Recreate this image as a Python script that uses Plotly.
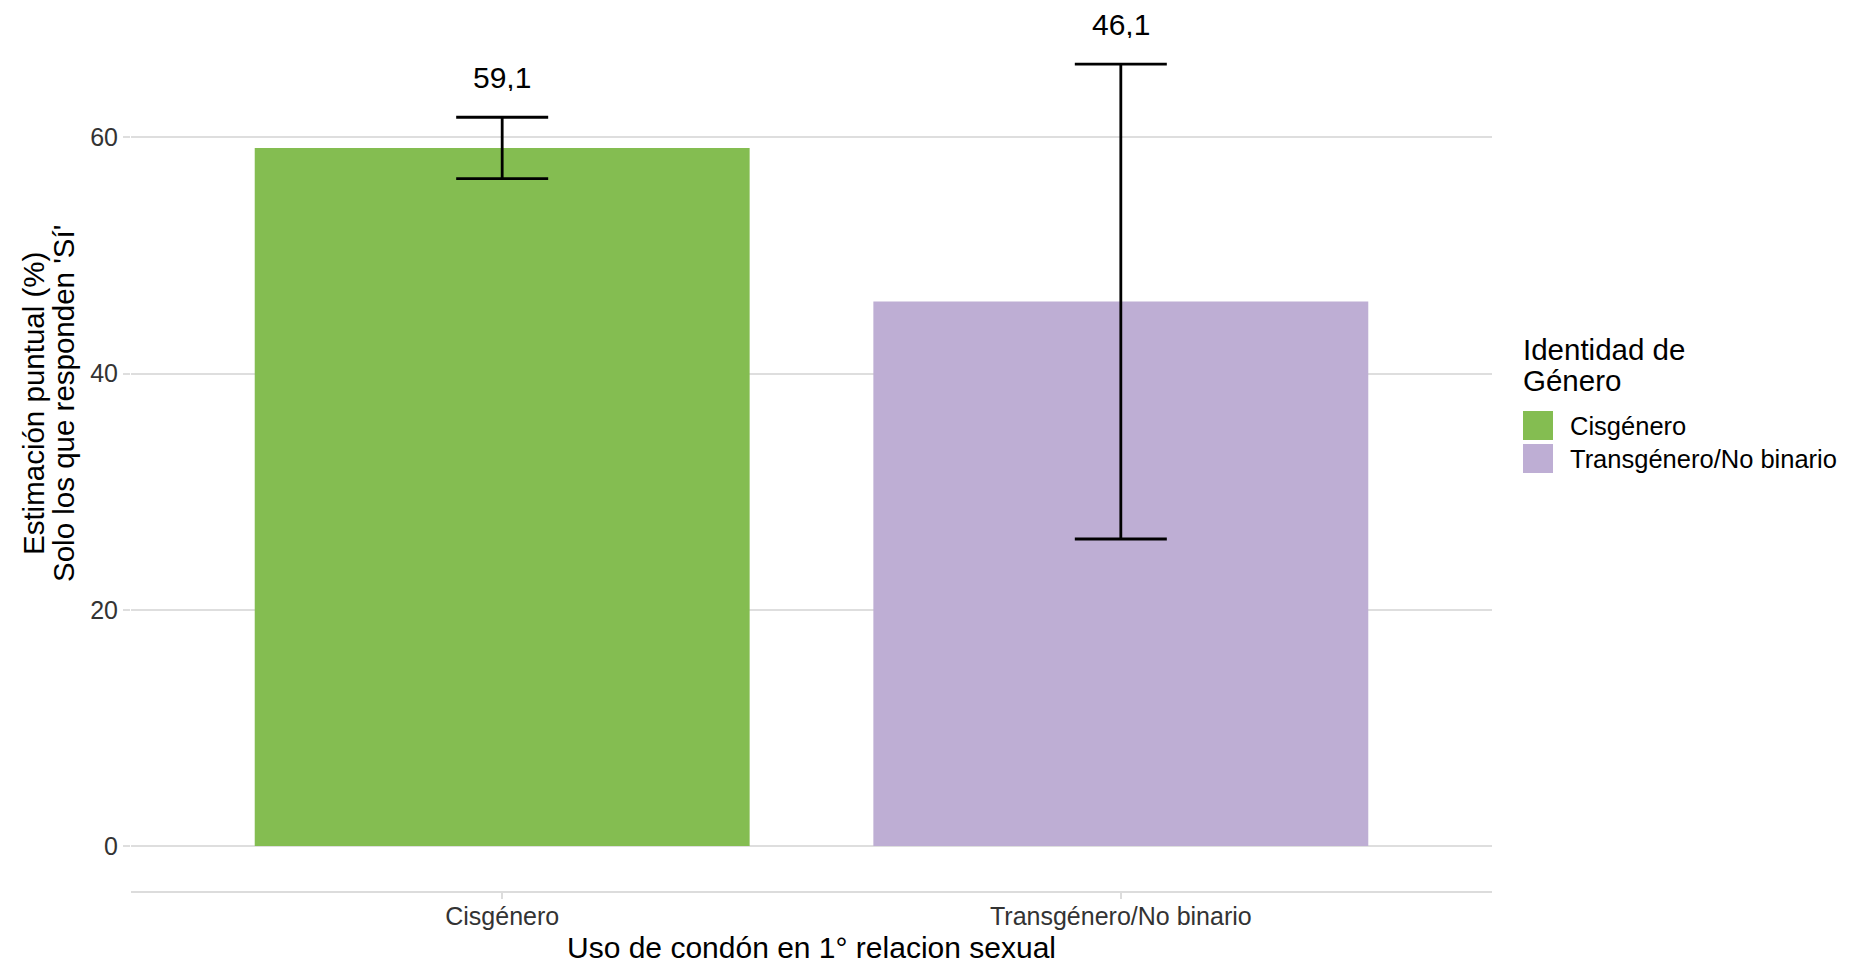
import plotly.graph_objects as go

# ---- data ----
categories = ["Cisgénero", "Transgénero/No binario"]
estimates = [59.1, 46.1]
ci_lower = [56.5, 26.0]
ci_upper = [61.7, 66.2]
colors = ["#84BD51", "#BEAED4"]
y_ticks = [0, 20, 40, 60]
x_title = "Uso de condón en 1° relacion sexual"
y_title_lines = ["Estimación puntual (%)", "Solo los que responden 'Sí'"]
legend_title = ["Identidad de", "Género"]

W, H = 1850, 961
OFF = 8  # page body margin
ML, MR, MT, MB = 123, 366, 0, 78
PW, PH = W - ML - MR, H - MT - MB


def px_x(p):
    """screen x (px) -> paper x"""
    return (p - OFF - ML) / PW


def px_y(p):
    """screen y (px) -> paper y"""
    return (H - MB - (p - OFF)) / PH


FONT = "Liberation Sans, Arial, sans-serif"

fig = go.Figure()
fig.add_trace(go.Bar(
    x=categories,
    y=estimates,
    width=0.8,
    marker=dict(color=colors, line=dict(width=0)),
    error_y=dict(
        type="data", symmetric=False,
        array=[u - e for u, e in zip(ci_upper, estimates)],
        arrayminus=[e - l for e, l in zip(estimates, ci_lower)],
        color="black", thickness=2.8, width=46,
    ),
    showlegend=False,
    hoverinfo="skip",
))

annotations = []
for c, u, e in zip(categories, ci_upper, estimates):
    annotations.append(dict(
        x=c, y=u, xref="x", yref="y", yanchor="middle", yshift=40,
        height=28, valign="middle",
        text=f"{e:.1f}".replace(".", ","), showarrow=False,
        font=dict(family=FONT, size=30, color="black"),
    ))

# y-axis title (two lines)
for line, xc in zip(y_title_lines, [33, 63]):
    annotations.append(dict(
        x=px_x(xc), y=px_y(404), xref="paper", yref="paper",
        xanchor="center", yanchor="middle", textangle=-90,
        text=line, showarrow=False,
        font=dict(family=FONT, size=29.5, color="black"),
    ))

# x-axis title
annotations.append(dict(
    x=px_x(811.5), y=px_y(948), xref="paper", yref="paper",
    xanchor="center", yanchor="middle",
    text=x_title, showarrow=False,
    font=dict(family=FONT, size=30, color="black"),
))

# legend (drawn manually to match the square keys)
for line, yc in zip(legend_title, [349, 380]):
    annotations.append(dict(
        x=px_x(1521), y=px_y(yc), xref="paper", yref="paper",
        xanchor="left", yanchor="middle",
        text=line, showarrow=False,
        font=dict(family=FONT, size=29.5, color="black"),
    ))
shapes = []
key_tops = [411, 444]
for cat, col, top in zip(categories, colors, key_tops):
    shapes.append(dict(
        type="rect", xref="paper", yref="paper",
        x0=px_x(1523), x1=px_x(1553), y0=px_y(top + 29), y1=px_y(top),
        fillcolor=col, line=dict(width=0),
    ))
    annotations.append(dict(
        x=px_x(1568), y=px_y(top + 15), xref="paper", yref="paper",
        xanchor="left", yanchor="middle",
        text=cat, showarrow=False,
        font=dict(family=FONT, size=25.5, color="black"),
    ))

fig.update_layout(
    width=W, height=H,
    margin=dict(l=ML, r=MR, t=MT, b=MB, autoexpand=False),
    paper_bgcolor="white", plot_bgcolor="white",
    font=dict(family=FONT, color="black"),
    showlegend=False,
    annotations=annotations,
    shapes=shapes,
    xaxis=dict(
        range=[-0.6, 1.6],
        showgrid=False, zeroline=False,
        showline=True, linecolor="#DCDCDC", linewidth=2,
        ticks="outside", ticklen=6, tickwidth=1.5, tickcolor="#DCDCDC",
        ticklabelstandoff=-4,
        tickfont=dict(family=FONT, size=25, color="#333333"),
        automargin=False,
    ),
    yaxis=dict(
        range=[-3.80, 70.95],
        tickvals=y_ticks,
        ticktext=[str(t) for t in y_ticks],
        showgrid=True, gridcolor="#DEDEDE", gridwidth=2,
        zeroline=False, showline=False,
        ticks="outside", ticklen=7, tickwidth=2, tickcolor="#DEDEDE",
        ticklabelstandoff=0,
        tickfont=dict(family=FONT, size=25, color="#333333"),
        automargin=False,
    ),
)

fig.write_html("out.html")
